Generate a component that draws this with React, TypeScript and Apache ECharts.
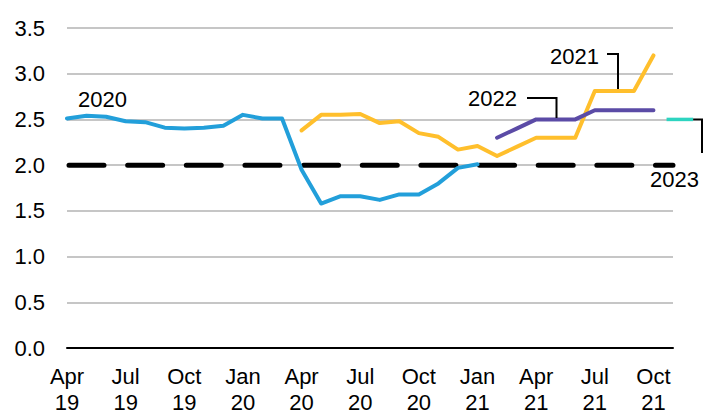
import React, { useEffect, useRef } from 'react';
import * as echarts from 'echarts';

// Monthly categories (x index 0 = Apr 19)
const months = [
  'Apr 19', 'May 19', 'Jun 19', 'Jul 19', 'Aug 19', 'Sep 19', 'Oct 19', 'Nov 19', 'Dec 19',
  'Jan 20', 'Feb 20', 'Mar 20', 'Apr 20', 'May 20', 'Jun 20', 'Jul 20', 'Aug 20', 'Sep 20',
  'Oct 20', 'Nov 20', 'Dec 20', 'Jan 21', 'Feb 21', 'Mar 21', 'Apr 21', 'May 21', 'Jun 21',
  'Jul 21', 'Aug 21', 'Sep 21', 'Oct 21', 'Nov 21',
];

const target = 2.0;

const start2020 = 0;
const values2020 = [
  2.51, 2.54, 2.53, 2.48, 2.47, 2.41, 2.40, 2.41, 2.43, 2.55, 2.51, 2.51,
  1.95, 1.58, 1.66, 1.66, 1.62, 1.68, 1.68, 1.80, 1.97, 2.01,
];

const start2021 = 12;
const values2021 = [
  2.38, 2.55, 2.55, 2.56, 2.46, 2.48, 2.35, 2.31, 2.17, 2.21, 2.10, 2.20,
  2.30, 2.30, 2.30, 2.81, 2.81, 2.81, 3.20,
];

const start2022 = 22;
const values2022 = [2.30, 2.40, 2.50, 2.50, 2.50, 2.60, 2.60, 2.60, 2.60];

const x2023 = [30.67, 32.03];
const values2023 = [2.5, 2.5];

const FONT = "'Liberation Sans', Arial, sans-serif";

function toPairs(start: number, vals: number[]) {
  return vals.map((v, i) => [start + i, v]);
}

export default function App() {
  const ref = useRef<HTMLDivElement>(null);
  useEffect(() => {
    document.body.style.margin = '0';
    if (!ref.current) return;
    const chart = echarts.init(ref.current, undefined, { renderer: 'svg' });
    const lastIdx = months.length - 1;
    const txt = (text: string, x: number, y: number) => ({
      type: 'text',
      x,
      y,
      style: {
        text,
        fill: '#000',
        font: `22px ${FONT}`,
        textAlign: 'left',
        textVerticalAlign: 'middle',
      },
      z: 100,
    });
    const leader = (pts: number[][]) => ({
      type: 'polyline',
      shape: { points: pts },
      style: { stroke: '#000', lineWidth: 2, fill: 'none' },
      z: 100,
    });
    chart.setOption({
      animation: false,
      grid: { left: 67, right: 39, top: 28, bottom: 67 },
      xAxis: {
        type: 'value',
        min: 0,
        max: lastIdx,
        interval: 3,
        splitLine: { show: false },
        axisTick: { show: false },
        axisLine: { show: true, lineStyle: { color: '#000', width: 2 } },
        axisLabel: {
          margin: 15,
          color: '#000',
          fontSize: 22,
          fontFamily: FONT,
          lineHeight: 26,
          formatter: (v: number) => {
            const i = Math.round(v);
            if (i % 3 !== 0 || i > 30) return '';
            return months[i].replace(' ', '\n');
          },
        },
      },
      yAxis: {
        type: 'value',
        min: 0,
        max: 3.5,
        interval: 0.5,
        axisLine: { show: false },
        axisTick: { show: false },
        splitLine: { lineStyle: { color: '#c6c6c6', width: 2 } },
        axisLabel: {
          margin: 22,
          color: '#000',
          fontSize: 22,
          fontFamily: FONT,
          formatter: (v: number) => v.toFixed(1),
        },
      },
      series: [
        {
          name: 'target',
          type: 'line',
          data: [[0, target], [lastIdx, target]],
          symbol: 'none',
          clip: false,
          lineStyle: { color: '#000', width: 5, type: [35, 23.65], dashOffset: -2.5, cap: 'round' },
          z: 1,
        },
        {
          name: '2020',
          type: 'line',
          data: toPairs(start2020, values2020),
          symbol: 'none',
          lineStyle: { color: '#229FDA', width: 4, cap: 'round', join: 'round' },
          z: 2,
        },
        {
          name: '2021',
          type: 'line',
          data: toPairs(start2021, values2021),
          symbol: 'none',
          lineStyle: { color: '#FFBF2C', width: 4, cap: 'round', join: 'round' },
          z: 3,
        },
        {
          name: '2022',
          type: 'line',
          data: toPairs(start2022, values2022),
          symbol: 'none',
          lineStyle: { color: '#5B4BA6', width: 4, cap: 'round', join: 'round' },
          z: 4,
        },
      ],
    });
    // 2023 segment lies beyond the axis end: place it through the axis scale, unclipped
    const p0 = chart.convertToPixel({ gridIndex: 0 }, [x2023[0], values2023[0]]) as number[];
    const p1 = chart.convertToPixel({ gridIndex: 0 }, [x2023[1], values2023[1]]) as number[];
    chart.setOption({
      graphic: [
        {
          type: 'line',
          shape: { x1: p0[0], y1: p0[1], x2: p1[0], y2: p1[1] },
          style: { stroke: '#2DD4C0', lineWidth: 3.5, lineCap: 'butt' },
          z: 50,
        },
        txt('2020', 78, 99),
        txt('2021', 550, 56),
        txt('2022', 468, 98),
        txt('2023', 650, 179),
        leader([[607, 54], [618, 54], [618, 89]]),
        leader([[527, 98], [556.5, 98], [556.5, 118]]),
        leader([[p1[0], p1[1]], [702, p1[1]], [702, 153]]),
      ],
    });
    return () => chart.dispose();
  }, []);
  return (
    <div
      ref={ref}
      style={{ position: 'absolute', left: 0, top: 0, width: 712, height: 415, background: '#fff' }}
    />
  );
}
